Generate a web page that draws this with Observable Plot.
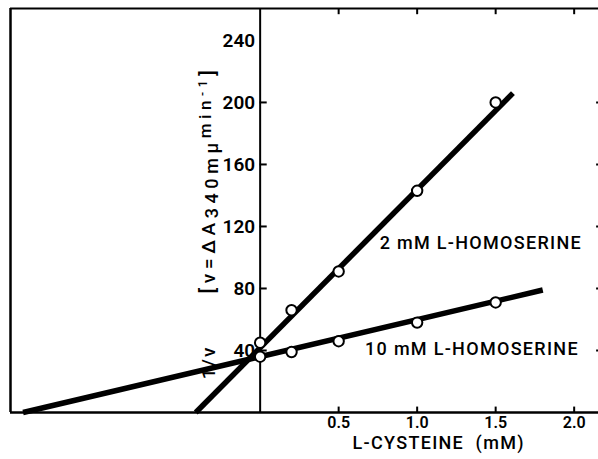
<!DOCTYPE html>
<html>
<head>
<meta charset="utf-8">
<script src="https://cdn.jsdelivr.net/npm/d3@7"></script>
<script src="https://cdn.jsdelivr.net/npm/@observablehq/plot@0.6"></script>
<style>
  html, body { margin: 0; padding: 0; background: #fff; }
  svg { display: block; }
</style>
</head>
<body>
<div id="chart"></div>
<script>
// Data
const cysteine = [0, 0.2, 0.5, 1.0, 1.5];
const inv2mM  = [45, 66, 91, 143, 200];
const inv10mM = [36, 39, 46, 58, 71];
// fitted line endpoints (as drawn)
const fit2mM  = [{x: -0.41, y: 0}, {x: 1.61, y: 206}];
const fit10mM = [{x: -1.51, y: 0}, {x: 1.80, y: 79}];
const xTicks = [0.5, 1.0, 1.5, 2.0];
const xTickLabels = ["0.5", "1.0", "1.5", "2.0"];
const yTicks = [40, 80, 120, 160, 200, 240];
const yTickMarks = [40, 80, 120, 160, 200];
const seriesLabels = [
  {x: 2.05, y: 109, text: "2 mM L-HOMOSERINE"},
  {x: 2.03, y: 40.5, text: "10 mM L-HOMOSERINE"}
];
const xLabel = "L-CYSTEINE  (mM)";

const XMIN = -1.59, XMAX = 2.155, YMAX = 260.6;
const pts2 = cysteine.map((c, i) => ({x: c, y: inv2mM[i]}));
const pts10 = cysteine.map((c, i) => ({x: c, y: inv10mM[i]}));

const FONT = "Roboto, 'Liberation Sans', sans-serif";

// custom y-axis title with sub/superscripts, positioned through scales
function yTitle(index, scales) {
  const g = d3.create("svg:g")
    .attr("font-family", FONT).attr("font-weight", 500).attr("fill", "#000");
  const x0 = scales.x(0) - 51;
  g.append("text")
    .attr("transform", `translate(${x0},${scales.y(32)}) rotate(-90)`)
    .attr("text-anchor", "middle").attr("dy", "0.35em")
    .attr("font-size", 19).attr("letter-spacing", "2px").text("1/v");
  const t = g.append("text")
    .attr("transform", `translate(${x0},${scales.y(150)}) rotate(-90)`)
    .attr("text-anchor", "middle").attr("dy", "0.35em")
    .attr("font-size", 19).attr("letter-spacing", "4.6px");
  t.append("tspan").attr("font-size", 21).text("[");
  t.append("tspan").text("v=\u0394A");
  t.append("tspan").attr("dy", 3).attr("font-size", 18).text("340m\u03bc");
  t.append("tspan").attr("dy", -7).attr("font-size", 17).text("min");
  t.append("tspan").attr("dy", -4).attr("font-size", 12).text("-1");
  t.append("tspan").attr("dy", 8).attr("font-size", 21).text("]");
  return g.node();
}

const chart = Plot.plot({
  width: 598,
  height: 459,
  marginLeft: 10,
  marginRight: 0,
  marginTop: 8,
  marginBottom: 47,
  x: {type: "linear", domain: [XMIN, XMAX], axis: null},
  y: {type: "linear", domain: [0, YMAX], axis: null},
  style: {fontFamily: FONT, background: "#fff"},
  marks: [
    // frame pieces
    Plot.ruleY([0], {x1: XMIN, x2: XMAX, strokeWidth: 2.5}),
    Plot.ruleY([YMAX], {x1: XMIN, x2: XMAX, strokeWidth: 2}),
    Plot.ruleX([XMIN], {y1: 0, y2: YMAX, strokeWidth: 2.5}),
    Plot.ruleX([0], {y1: 0, y2: YMAX, strokeWidth: 2}),
    // x ticks bottom (pointing up) and top (pointing down)
    Plot.ruleX(xTicks, {y1: 0, y2: 3.5, strokeWidth: 2}),
    Plot.ruleX(xTicks, {y1: YMAX - 4, y2: YMAX, strokeWidth: 2}),
    // y ticks (pointing right from the x=0 axis)
    Plot.ruleY(yTickMarks, {x1: 0, x2: 0.045, strokeWidth: 2}),
    // right frame tick stubs
    Plot.ruleY(yTickMarks, {x1: XMAX - 0.012, x2: XMAX, strokeWidth: 2}),
    // tick labels
    Plot.text(xTicks, {x: d => d, y: () => 0, text: (d, i) => xTickLabels[i], dy: 10,
      fontSize: 16, fontWeight: 600}),
    Plot.text(yTicks, {x: () => 0, y: d => d, text: d => String(d), textAnchor: "end", dx: -5,
      fontSize: 19, fontWeight: 600, style: "letter-spacing:1px"}),
    // fitted lines
    Plot.line(fit2mM, {x: "x", y: "y", strokeWidth: 5.5, strokeLinecap: "butt"}),
    Plot.line(fit10mM, {x: "x", y: "y", strokeWidth: 5.5, strokeLinecap: "butt"}),
    // data points
    Plot.dot(pts2, {x: "x", y: "y", r: 5.2, fill: "#fff", stroke: "#000", strokeWidth: 2}),
    Plot.dot(pts10, {x: "x", y: "y", r: 5.2, fill: "#fff", stroke: "#000", strokeWidth: 2}),
    // series labels
    Plot.text(seriesLabels, {x: "x", y: "y", text: "text", textAnchor: "end",
      fontSize: 18, fontWeight: 500}),
    // x-axis title
    Plot.text([xLabel], {x: () => 1.137, y: () => 0, text: d => d, dy: 31,
      fontSize: 18, fontWeight: 500}),
    // y-axis title
    yTitle
  ]
});
// letter spacing for larger labels (styling only)
d3.select(chart).selectAll("text").filter(function() {
  const s = this.textContent;
  return s.includes("HOMOSERINE") || s.includes("CYSTEINE");
}).attr("letter-spacing", "1.3px");
document.getElementById("chart").appendChild(chart);
</script>
</body>
</html>
